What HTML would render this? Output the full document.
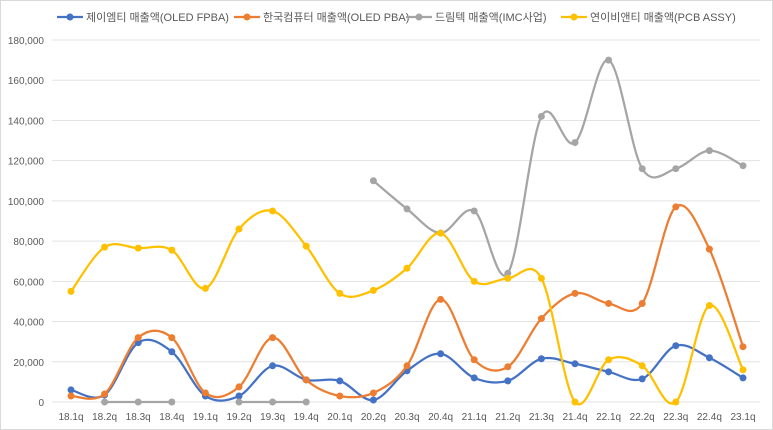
<!DOCTYPE html>
<html><head><meta charset="utf-8"><style>
body{margin:0;background:#fff;}
svg{display:block;font-family:"Liberation Sans","Noto Sans CJK KR",sans-serif;}
</style></head><body>
<svg id="chart" width="773" height="430" viewBox="0 0 773 430" xmlns="http://www.w3.org/2000/svg">
<rect x="0.5" y="0.5" width="772" height="429" fill="#fff" stroke="#d9d9d9"/>
<g id="grid"></g><g id="yticks"></g><g id="xticks"></g><g id="series"></g><g id="legend"></g>
</svg>
<script>
const categories=["18.1q","18.2q","18.3q","18.4q","19.1q","19.2q","19.3q","19.4q","20.1q","20.2q","20.3q","20.4q","21.1q","21.2q","21.3q","21.4q","22.1q","22.2q","22.3q","22.4q","23.1q"];
const jmtValues=[6000,3500,29500,25000,3000,3000,18000,11000,10500,1000,15500,24000,12000,10500,21500,19000,15000,11500,28000,22000,12000];
const hkcValues=[3000,4000,32000,32000,4500,7500,32000,11000,3000,4500,18000,51000,21000,17500,41500,54000,49000,49000,97000,76000,27500];
const drtValues=[null,0,0,0,null,0,0,0,null,110000,96000,84000,95000,64000,142000,129000,170000,116000,116000,125000,117500];
const ynbValues=[55000,77000,76500,75500,56500,86000,95000,77500,54000,55500,66500,84000,60000,61500,61500,0,21000,18000,0,48000,16000];
const yTicks=[0,20000,40000,60000,80000,100000,120000,140000,160000,180000];
const seriesNames=["제이엠티 매출액(OLED FPBA)","한국컴퓨터 매출액(OLED PBA)","드림텍 매출액(IMC사업)","연이비앤티 매출액(PCB ASSY)"];
const seriesColors=["#4472c4","#ed7d31","#a5a5a5","#ffc000"];
const seriesData=[jmtValues,hkcValues,drtValues,ynbValues];
const NS="http://www.w3.org/2000/svg";
const X0=71,X1=743,Y0=402,Y1=40,VMAX=180000;
const xs=i=>X0+(X1-X0)*i/(categories.length-1);
const ys=v=>Y0-(Y0-Y1)*v/VMAX;
function mk(tag,attrs,parent){const e=document.createElementNS(NS,tag);for(const k in attrs)e.setAttribute(k,attrs[k]);parent.appendChild(e);return e;}
const grid=document.getElementById('grid'),yt=document.getElementById('yticks'),xt=document.getElementById('xticks'),sg=document.getElementById('series'),lg=document.getElementById('legend');
yTicks.forEach(v=>{
  const l=mk('line',{x1:52,x2:760,y1:ys(v),y2:ys(v),stroke:'#e3e3e3','stroke-width':1},grid);
  
  
  const t=mk('text',{x:44,y:ys(v)+4,'text-anchor':'end','font-size':10,fill:'#595959'},yt);
  t.textContent=v.toLocaleString('en-US');
  
  
});
categories.forEach((c,i)=>{
  const t=mk('text',{x:xs(i),y:420,'text-anchor':'middle','font-size':10,fill:'#595959'},xt);
  t.textContent=c;
  
  
});
function smoothPath(pts){
  let d=`M${pts[0][0]},${pts[0][1]}`;
  for(let i=0;i<pts.length-1;i++){
    const p0=pts[i-1]||pts[i],p1=pts[i],p2=pts[i+1],p3=pts[i+2]||p2;
    const t=1/6;
    const c1=[p1[0]+(p2[0]-p0[0])*t,p1[1]+(p2[1]-p0[1])*t];
    const c2=[p2[0]-(p3[0]-p1[0])*t,p2[1]-(p3[1]-p1[1])*t];
    d+=` C${c1[0]},${c1[1]} ${c2[0]},${c2[1]} ${p2[0]},${p2[1]}`;
  }
  return d;
}
seriesData.forEach((vals,si)=>{
  const g=mk('g',{},sg);
  
  
  let seg=[];const segs=[];
  vals.forEach((v,i)=>{if(v===null){if(seg.length)segs.push(seg);seg=[];}else seg.push([xs(i),ys(v)]);});
  if(seg.length)segs.push(seg);
  segs.forEach(s=>{
    if(s.length>1){const p=mk('path',{d:smoothPath(s),fill:'none',stroke:seriesColors[si],'stroke-width':2.25},g);
      
      }
  });
  vals.forEach((v,i)=>{if(v===null)return;
    const c=mk('circle',{cx:xs(i),cy:ys(v),r:3.5,fill:seriesColors[si]},g);
    
    
  });
});
const lx=[57,234,406,561];
seriesNames.forEach((n,i)=>{
  const g=mk('g',{},lg);
  
  
  mk('line',{x1:lx[i],x2:lx[i]+26,y1:17,y2:17,stroke:seriesColors[i],'stroke-width':2.25},g);
  mk('circle',{cx:lx[i]+13,cy:17,r:3.5,fill:seriesColors[i]},g);
  const t=mk('text',{x:lx[i]+29,y:21,'font-size':11,fill:'#595959'},g);
  t.textContent=n;
});
</script>
</body></html>
